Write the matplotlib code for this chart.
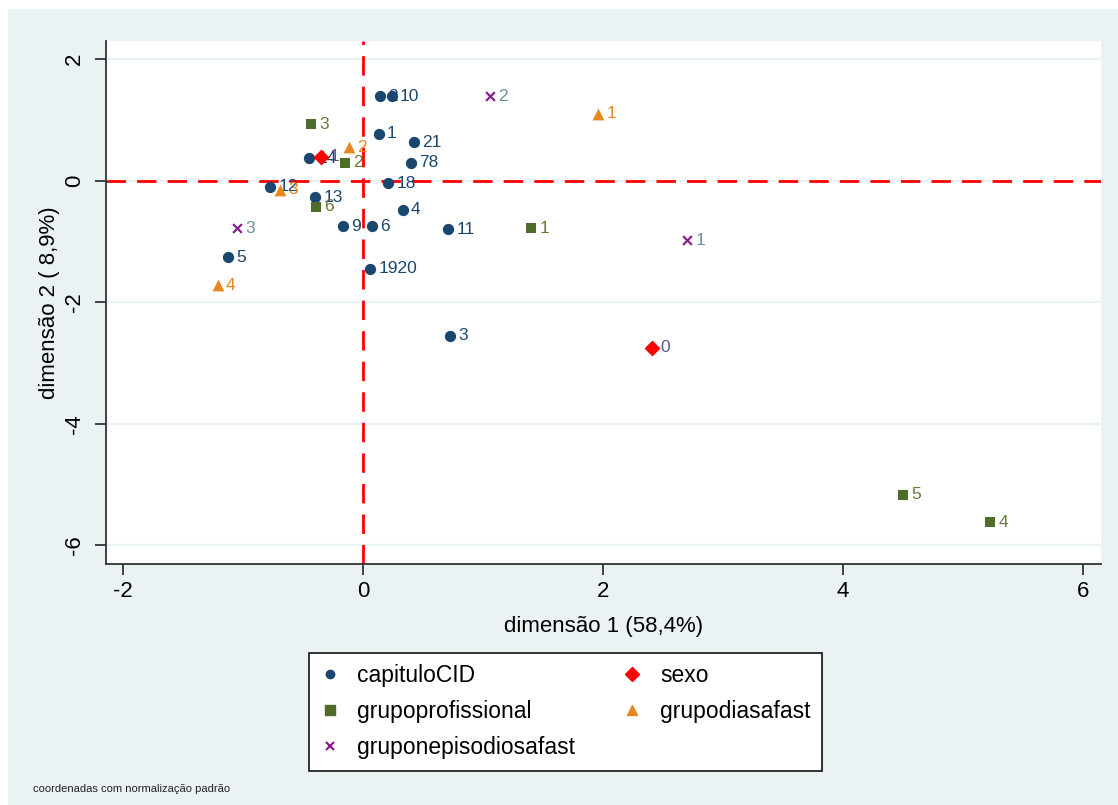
import matplotlib
matplotlib.use("Agg")
import matplotlib.pyplot as plt
from matplotlib.patches import Rectangle
from matplotlib.lines import Line2D

plt.rcParams['font.family'] = ['Liberation Sans', 'DejaVu Sans']

# Coordinates of each category (dimension 1, dimension 2)
cid_labels = ["2", "10", "1", "21", "78", "14", "18", "12", "13", "9", "6", "4", "11", "5", "1920", "3"]
cid_x = [0.14, 0.24, 0.13, 0.425, 0.40, -0.45, 0.21, -0.775, -0.40, -0.17, 0.075, 0.33, 0.71, -1.125, 0.06, 0.725]
cid_y = [1.39, 1.39, 0.77, 0.63, 0.29, 0.37, -0.04, -0.10, -0.27, -0.75, -0.75, -0.48, -0.80, -1.26, -1.45, -2.55]

prof_labels = ["3", "2", "6", "1", "5", "4"]
prof_x = [-0.43, -0.15, -0.39, 1.40, 4.50, 5.225]
prof_y = [0.93, 0.29, -0.43, -0.78, -5.17, -5.62]

dias_labels = ["1", "2", "3", "4"]
dias_x = [1.96, -0.12, -0.69, -1.21]
dias_y = [1.10, 0.55, -0.15, -1.72]

epis_labels = ["2", "1", "3"]
epis_x = [1.06, 2.70, -1.05]
epis_y = [1.39, -0.98, -0.78]

sexo_labels = ["0", "1"]
sexo_x = [2.41, -0.35]
sexo_y = [-2.75, 0.39]

x_ticks = [-2, 0, 2, 4, 6]
y_ticks = [-6, -4, -2, 0, 2]

BG = "#eaf2f3"
NAVY = "#1a476f"
GREEN = "#4f6d2a"
ORANGE = "#e8871e"
PURPLE = "#84218a"
RED = "#ff0000"

fig = plt.figure(figsize=(11.18, 8.05), dpi=100)
fig.patch.set_facecolor("white")
# graph region background
fig.patches.append(Rectangle((8 / 1118, 0), 1 - 8 / 1118, 1 - 9 / 805,
                             transform=fig.transFigure, facecolor=BG,
                             edgecolor="none", zorder=-10))

ax = fig.add_axes([105.7 / 1118, 1 - 564 / 805, (1101 - 105.7) / 1118, (564 - 41) / 805])
ax.set_facecolor("white")
ax.set_xlim(-2.144, 6.15)
ax.set_ylim(-6.306, 2.296)

for s in ["top", "right"]:
    ax.spines[s].set_visible(False)
for s in ["left", "bottom"]:
    ax.spines[s].set_color("#333333")
    ax.spines[s].set_linewidth(1.3)

ax.set_xticks(x_ticks)
ax.set_yticks(y_ticks)
ax.set_xticklabels([str(t) for t in x_ticks])
ax.set_yticklabels([str(t) for t in y_ticks], rotation=90, va="center")
ax.tick_params(axis="both", length=8, width=1.3, color="#333333", labelsize=16)
ax.tick_params(axis="y", pad=7)
ax.tick_params(axis="x", pad=4)
ax.grid(axis="y", color=BG, linewidth=1.6, zorder=0)
ax.set_axisbelow(True)

ax.axhline(0, color=RED, linewidth=2, dashes=(7, 4), zorder=1)
ax.axvline(0, color=RED, linewidth=2, dashes=(7, 4), zorder=1)

ax.set_xlabel("dimensão 1 (58,4%)", fontsize=16, labelpad=10)
ax.set_ylabel("dimensão 2 ( 8,9%)", fontsize=16, labelpad=3)


def draw(xs, ys, labels, marker, color, size, label_color, z):
    """Markers of one variable, with each category's label to its right."""
    ax.scatter(xs, ys, marker=marker, s=size, color=color,
               linewidths=1.6 if marker == "x" else 0, zorder=z)
    for x, y, t in zip(xs, ys, labels):
        ax.annotate(t, (x, y), xytext=(6, 0), textcoords="offset points",
                    va="center", ha="left", fontsize=12.5, color=label_color,
                    zorder=z + 0.5)


draw(cid_x, cid_y, cid_labels, "o", NAVY, 66, NAVY, 3)
draw(prof_x, prof_y, prof_labels, "s", GREEN, 62, "#6b7a3a", 4)
draw(dias_x, dias_y, dias_labels, "^", ORANGE, 72, ORANGE, 5)
draw(epis_x, epis_y, epis_labels, "x", PURPLE, 40, "#6f8f9a", 6)
draw(sexo_x, sexo_y, sexo_labels, "D", RED, 66, "#5e5490", 7)

handles = [
    Line2D([], [], marker="o", color=NAVY, linestyle="none", markersize=6),
    Line2D([], [], marker="s", color=GREEN, linestyle="none", markersize=7),
    Line2D([], [], marker="x", color=PURPLE, linestyle="none", markersize=6, markeredgewidth=1.6),
    Line2D([], [], marker="D", color=RED, linestyle="none", markersize=7),
    Line2D([], [], marker="^", color=ORANGE, linestyle="none", markersize=7),
]
names = ["capituloCID", "grupoprofissional", "gruponepisodiosafast", "sexo", "grupodiasafast"]
leg = fig.legend(handles, names, ncol=2, loc="upper left",
                 bbox_to_anchor=(309 / 1118, 1 - 653 / 805),
                 fontsize=16.5, frameon=True, fancybox=False,
                 handlelength=0.8, handletextpad=0.8, columnspacing=2.1,
                 labelspacing=0.56, borderpad=0.5, borderaxespad=0)
leg.get_frame().set_edgecolor("#222222")
leg.get_frame().set_linewidth(1.3)
leg.get_frame().set_facecolor("white")
leg.get_frame().set_alpha(1)

fig.text(33 / 1118, 1 - 789 / 805, "coordenadas com normalização padrão",
         fontsize=8, va="center", ha="left", color="#222222")

fig.savefig("out.png", dpi=100, facecolor=fig.get_facecolor())
